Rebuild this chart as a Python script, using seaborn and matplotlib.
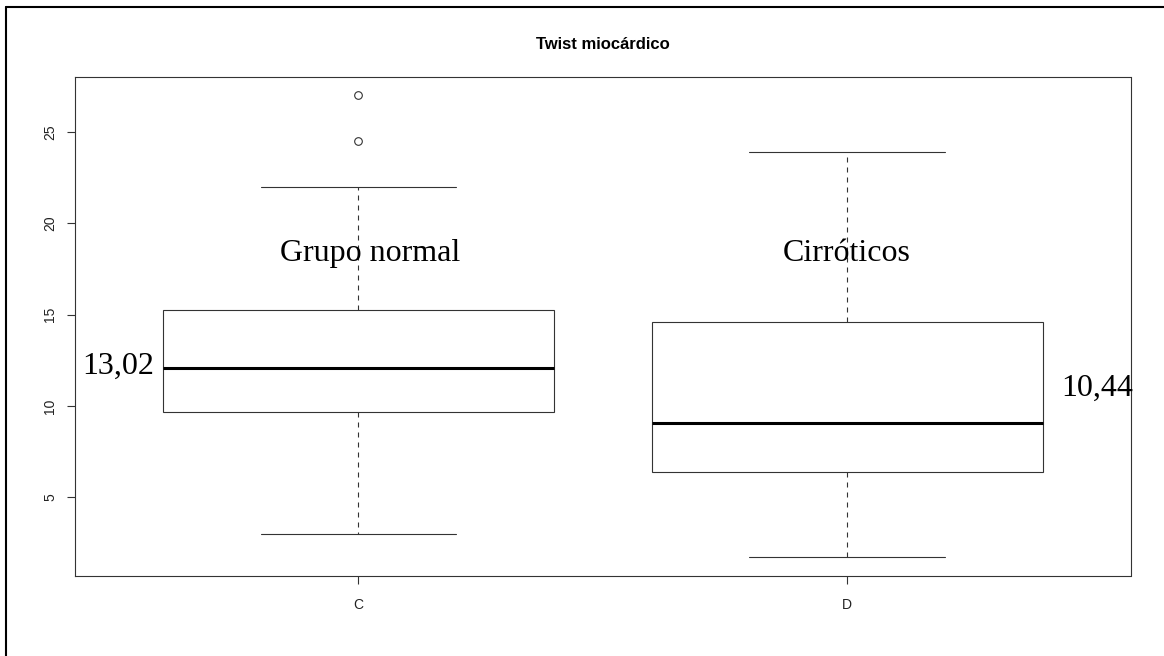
import matplotlib
matplotlib.use("Agg")
import matplotlib.pyplot as plt
from matplotlib.lines import Line2D
import pandas as pd
import seaborn as sns

# ---- data (five-number summaries) ----
groups = ["C", "D"]
whisker_low = [3.0, 1.73]
q1 = [9.69, 6.37]
median = [12.07, 9.09]
q3 = [15.27, 14.6]
whisker_high = [21.96, 23.92]
outliers = [[24.5, 27.0], []]

title = "Twist miocárdico"
group_names = ["Grupo normal", "Cirróticos"]
mean_labels = ["13,02", "10,44"]
y_ticks = [5, 10, 15, 20, 25]


def observations(lo, a, m, b, hi, outs):
    # repeat the summary values so that the quartiles fall exactly on them
    k = len(outs) + 1
    return [lo] + [a] * k + [m] * k + [b] * k + [hi] + list(outs)


rows = []
for i, g in enumerate(groups):
    for v in observations(whisker_low[i], q1[i], median[i], q3[i],
                          whisker_high[i], outliers[i]):
        rows.append({"group": g, "value": v})
df = pd.DataFrame(rows)

sns.set_style("white")
plt.rcParams["font.family"] = ["Liberation Sans", "DejaVu Sans"]
plt.rcParams["text.color"] = "black"

W, H = 1164, 656
fig = plt.figure(figsize=(W / 100, H / 100), dpi=100)
ax = fig.add_axes([75 / W, 1 - 576 / H, (1130.5 - 75) / W, (576 - 77) / H])

lc = "#333333"
sns.boxplot(
    data=df, x="group", y="value", order=groups, ax=ax,
    width=0.8, color="white", linecolor=lc, linewidth=0.8, whis=1.5,
    flierprops=dict(marker="o", markerfacecolor="none",
                    markeredgecolor=lc, markersize=5.5, markeredgewidth=0.8),
    whiskerprops=dict(linestyle=(0, (4.5, 4.5))),
    medianprops=dict(color="black", linewidth=2.2),
)

ax.set_xlim(-0.58, 1.58)
ax.set_ylim(0.688, 28.01)
ax.set_yticks(y_ticks)
ax.set_yticklabels([str(t) for t in y_ticks])
ax.set_xlabel("")
ax.set_ylabel("")
for s in ax.spines.values():
    s.set_visible(True)
    s.set_color(lc)
    s.set_linewidth(0.8)
ax.tick_params(axis="both", direction="out", length=5.8, width=0.8,
               color=lc, labelsize=10, labelcolor="#222222",
               bottom=True, left=True, top=False, right=False)
ax.tick_params(axis="y", pad=7)
ax.tick_params(axis="x", pad=10)
for t in ax.get_yticklabels():
    t.set_rotation(90)
    t.set_va("center")

ax.set_title(title, fontweight="bold", fontsize=12, pad=20, color="black")

serif = ["Liberation Serif", "DejaVu Serif"]
ax.text(0.0235, 17.96, group_names[0], ha="center", va="baseline",
        fontsize=23, family=serif, color="black")
ax.text(1.0, 17.96, group_names[1], ha="center", va="baseline",
        fontsize=23, family=serif, color="black")
ax.text(-0.491, 11.74, mean_labels[0], ha="center", va="baseline",
        fontsize=23, family=serif, color="black")
ax.text(1.512, 10.55, mean_labels[1], ha="center", va="baseline",
        fontsize=23, family=serif, color="black", clip_on=False)

# outer frame (top and left edges, as in the reference screenshot)
fig.add_artist(Line2D([6 / W, 1], [1 - 7 / H, 1 - 7 / H],
                      transform=fig.transFigure, color="black", lw=1.5))
fig.add_artist(Line2D([6 / W, 6 / W], [0, 1 - 7 / H],
                      transform=fig.transFigure, color="black", lw=1.5))

fig.savefig("out.png", dpi=100, facecolor="white")
